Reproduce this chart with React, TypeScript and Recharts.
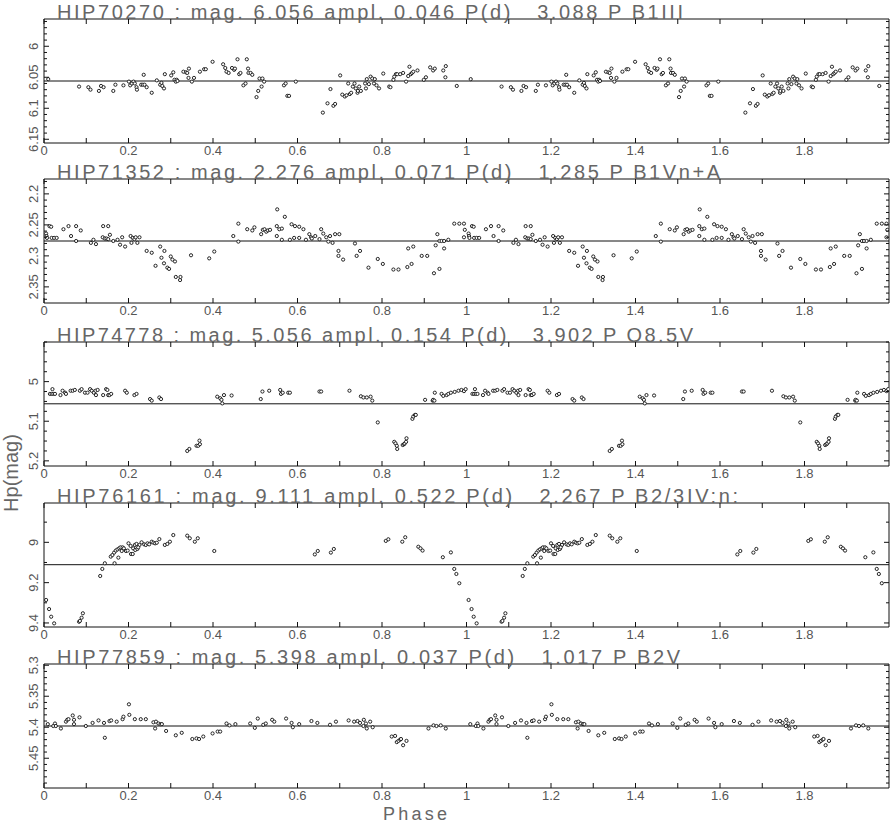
import React from "react";
import { ScatterChart, Scatter, XAxis, YAxis, ReferenceLine } from "recharts";

const FONT = '"Liberation Sans", Arial, Helvetica, sans-serif';
const INK = "#111";
const TEXT = "#555";

// [phase, Hp mag] for one cycle
const hip70270: [number, number][] = [
  [0.010, 6.053], [0.083, 6.065], [0.105, 6.066], [0.110, 6.070], [0.130, 6.072], [0.135, 6.064], [0.141, 6.066],
  [0.164, 6.072], [0.169, 6.062], [0.188, 6.063], [0.201, 6.057], [0.204, 6.063], [0.208, 6.060], [0.212, 6.057],
  [0.215, 6.060], [0.219, 6.066], [0.220, 6.070], [0.230, 6.062], [0.234, 6.062], [0.236, 6.046], [0.238, 6.062],
  [0.243, 6.066], [0.255, 6.075], [0.267, 6.055], [0.275, 6.062], [0.278, 6.059], [0.280, 6.064], [0.284, 6.068],
  [0.286, 6.045], [0.301, 6.047], [0.306, 6.042], [0.309, 6.054], [0.312, 6.057], [0.314, 6.054], [0.316, 6.056],
  [0.330, 6.041], [0.336, 6.042], [0.339, 6.043], [0.343, 6.036], [0.342, 6.051], [0.350, 6.057], [0.355, 6.051],
  [0.369, 6.041], [0.379, 6.037], [0.383, 6.037], [0.399, 6.025], [0.424, 6.029], [0.429, 6.035], [0.432, 6.041],
  [0.437, 6.043], [0.445, 6.035], [0.450, 6.038], [0.452, 6.036], [0.458, 6.021], [0.462, 6.045], [0.465, 6.043],
  [0.472, 6.063], [0.477, 6.060], [0.480, 6.021], [0.483, 6.036], [0.484, 6.043], [0.489, 6.043], [0.493, 6.046],
  [0.503, 6.082], [0.507, 6.072], [0.510, 6.052], [0.515, 6.065], [0.517, 6.052], [0.521, 6.057], [0.568, 6.063],
  [0.572, 6.060], [0.576, 6.080], [0.580, 6.080], [0.596, 6.057], [0.660, 6.107], [0.671, 6.092], [0.678, 6.069],
  [0.685, 6.096], [0.689, 6.093], [0.701, 6.047], [0.706, 6.078], [0.712, 6.081], [0.716, 6.079], [0.720, 6.060],
  [0.724, 6.077], [0.727, 6.075], [0.731, 6.065], [0.735, 6.060], [0.738, 6.068], [0.742, 6.075], [0.743, 6.072],
  [0.746, 6.065], [0.750, 6.072], [0.760, 6.060], [0.762, 6.068], [0.764, 6.053], [0.769, 6.061], [0.773, 6.049],
  [0.777, 6.052], [0.781, 6.060], [0.783, 6.053], [0.787, 6.063], [0.793, 6.068], [0.803, 6.044], [0.817, 6.065],
  [0.820, 6.066], [0.827, 6.054], [0.829, 6.049], [0.833, 6.045], [0.836, 6.045], [0.843, 6.045], [0.850, 6.043],
  [0.857, 6.057], [0.862, 6.048], [0.865, 6.033], [0.868, 6.045], [0.871, 6.043], [0.874, 6.041], [0.884, 6.039],
  [0.899, 6.054], [0.904, 6.050], [0.914, 6.034], [0.921, 6.039], [0.925, 6.036], [0.945, 6.039], [0.950, 6.050],
  [0.951, 6.032], [0.977, 6.064],
];

const hip71352: [number, number][] = [
  [0.005, 2.264], [0.006, 2.268], [0.007, 2.271], [0.013, 2.252], [0.017, 2.253], [0.018, 2.271], [0.024, 2.271],
  [0.030, 2.271], [0.046, 2.257], [0.058, 2.252], [0.064, 2.268], [0.076, 2.252], [0.076, 2.276], [0.087, 2.259],
  [0.111, 2.279], [0.117, 2.274], [0.123, 2.281], [0.139, 2.270], [0.140, 2.252], [0.152, 2.252], [0.144, 2.272],
  [0.148, 2.272], [0.152, 2.273], [0.156, 2.266], [0.164, 2.276], [0.174, 2.274], [0.180, 2.282], [0.185, 2.270],
  [0.192, 2.285], [0.205, 2.268], [0.207, 2.279], [0.210, 2.271], [0.214, 2.273], [0.217, 2.270], [0.221, 2.279],
  [0.226, 2.270], [0.243, 2.292], [0.255, 2.295], [0.264, 2.316], [0.275, 2.285], [0.278, 2.303], [0.285, 2.292],
  [0.284, 2.312], [0.292, 2.319], [0.296, 2.321], [0.300, 2.301], [0.304, 2.306], [0.310, 2.309], [0.312, 2.334],
  [0.322, 2.339], [0.323, 2.334], [0.348, 2.299], [0.391, 2.304], [0.403, 2.293], [0.448, 2.268], [0.460, 2.248],
  [0.460, 2.277], [0.481, 2.257], [0.493, 2.259], [0.498, 2.254], [0.514, 2.265], [0.518, 2.258], [0.522, 2.257],
  [0.526, 2.261], [0.530, 2.259], [0.535, 2.258], [0.551, 2.252], [0.552, 2.225], [0.551, 2.268], [0.557, 2.257],
  [0.563, 2.256], [0.563, 2.274], [0.570, 2.237], [0.582, 2.274], [0.586, 2.249], [0.594, 2.252], [0.592, 2.271],
  [0.604, 2.271], [0.604, 2.253], [0.614, 2.257], [0.620, 2.274], [0.628, 2.265], [0.632, 2.270], [0.634, 2.272],
  [0.642, 2.268], [0.652, 2.273], [0.656, 2.257], [0.661, 2.264], [0.668, 2.270], [0.677, 2.268], [0.689, 2.265],
  [0.699, 2.265], [0.673, 2.277], [0.683, 2.279], [0.697, 2.292], [0.697, 2.300], [0.708, 2.306], [0.736, 2.280],
  [0.740, 2.300], [0.748, 2.292], [0.768, 2.319], [0.790, 2.305], [0.802, 2.313], [0.827, 2.322], [0.839, 2.322],
  [0.860, 2.318], [0.862, 2.288], [0.870, 2.313], [0.874, 2.285], [0.894, 2.300], [0.907, 2.300], [0.923, 2.328],
  [0.927, 2.283], [0.931, 2.265], [0.936, 2.321], [0.936, 2.276], [0.941, 2.276], [0.947, 2.276], [0.947, 2.288],
  [0.957, 2.274], [0.971, 2.248], [0.983, 2.248], [0.994, 2.248], [0.994, 2.270], [0.996, 2.258],
];

const hip74778: [number, number][] = [
  [0.014, 5.031], [0.018, 5.031], [0.020, 5.019], [0.022, 5.031], [0.026, 5.031], [0.039, 5.034], [0.044, 5.023],
  [0.050, 5.028], [0.052, 5.031], [0.063, 5.023], [0.068, 5.023], [0.073, 5.021], [0.085, 5.023], [0.089, 5.019],
  [0.097, 5.028], [0.103, 5.028], [0.109, 5.019], [0.113, 5.023], [0.118, 5.028], [0.122, 5.023], [0.123, 5.034],
  [0.127, 5.021], [0.140, 5.034], [0.147, 5.019], [0.150, 5.021], [0.152, 5.034], [0.155, 5.034], [0.159, 5.031],
  [0.192, 5.023], [0.196, 5.028], [0.214, 5.034], [0.219, 5.031], [0.251, 5.044], [0.255, 5.048], [0.273, 5.040],
  [0.277, 5.044], [0.339, 5.175], [0.344, 5.170], [0.361, 5.162], [0.365, 5.162], [0.369, 5.158], [0.368, 5.149],
  [0.410, 5.038], [0.417, 5.042], [0.420, 5.046], [0.422, 5.055], [0.426, 5.034], [0.444, 5.035], [0.513, 5.044],
  [0.517, 5.025], [0.533, 5.023], [0.559, 5.021], [0.561, 5.031], [0.565, 5.028], [0.578, 5.028], [0.582, 5.028],
  [0.652, 5.025], [0.656, 5.025], [0.723, 5.023], [0.750, 5.037], [0.756, 5.040], [0.764, 5.040], [0.773, 5.038],
  [0.777, 5.048], [0.790, 5.103], [0.829, 5.152], [0.832, 5.156], [0.835, 5.162], [0.836, 5.170], [0.849, 5.160],
  [0.852, 5.158], [0.854, 5.156], [0.857, 5.152], [0.858, 5.143], [0.872, 5.094], [0.874, 5.088], [0.878, 5.084],
  [0.880, 5.084], [0.902, 5.046], [0.920, 5.048], [0.921, 5.046], [0.924, 5.048], [0.925, 5.028], [0.941, 5.031],
  [0.945, 5.036], [0.953, 5.034], [0.957, 5.031], [0.963, 5.028], [0.972, 5.026], [0.981, 5.023], [0.988, 5.021],
  [0.994, 5.024], [0.998, 5.019],
];

const hip76161: [number, number][] = [
  [0.005, 9.286], [0.012, 9.331], [0.017, 9.369], [0.024, 9.402], [0.083, 9.394], [0.085, 9.390], [0.089, 9.374],
  [0.092, 9.352], [0.133, 9.167], [0.138, 9.132], [0.144, 9.104], [0.158, 9.071], [0.162, 9.063], [0.166, 9.051],
  [0.170, 9.041], [0.167, 9.104], [0.174, 9.035], [0.178, 9.030], [0.181, 9.025], [0.186, 9.025], [0.176, 9.076],
  [0.184, 9.043], [0.189, 9.030], [0.194, 9.043], [0.198, 9.041], [0.200, 9.005], [0.205, 9.018], [0.206, 9.058],
  [0.210, 9.058], [0.211, 9.030], [0.215, 9.013], [0.219, 9.008], [0.216, 9.038], [0.221, 9.033], [0.226, 9.013],
  [0.223, 9.025], [0.231, 9.000], [0.237, 9.010], [0.241, 9.013], [0.245, 9.005], [0.249, 9.010], [0.255, 8.997],
  [0.259, 9.002], [0.263, 9.005], [0.267, 9.002], [0.273, 8.984], [0.286, 9.013], [0.292, 9.008], [0.298, 8.997],
  [0.306, 8.964], [0.339, 8.967], [0.345, 8.980], [0.357, 8.997], [0.364, 8.980], [0.403, 9.043], [0.641, 9.060],
  [0.648, 9.043], [0.679, 9.051], [0.686, 9.033], [0.809, 8.993], [0.815, 8.985], [0.848, 8.997], [0.855, 8.975],
  [0.886, 9.022], [0.891, 9.030], [0.896, 9.041], [0.944, 9.074], [0.963, 9.050], [0.971, 9.132], [0.976, 9.157],
  [0.983, 9.203],
];

const hip77859: [number, number][] = [
  [0.009, 5.395], [0.022, 5.398], [0.026, 5.394], [0.028, 5.398], [0.040, 5.402], [0.052, 5.391], [0.055, 5.388],
  [0.058, 5.387], [0.068, 5.381], [0.071, 5.395], [0.071, 5.388], [0.084, 5.384], [0.099, 5.398], [0.115, 5.393],
  [0.129, 5.389], [0.142, 5.393], [0.144, 5.417], [0.155, 5.390], [0.159, 5.389], [0.172, 5.391], [0.186, 5.387],
  [0.188, 5.383], [0.201, 5.363], [0.202, 5.380], [0.215, 5.387], [0.229, 5.387], [0.241, 5.387], [0.259, 5.392],
  [0.263, 5.402], [0.265, 5.391], [0.271, 5.394], [0.276, 5.395], [0.279, 5.395], [0.289, 5.406], [0.312, 5.413],
  [0.326, 5.409], [0.351, 5.419], [0.361, 5.418], [0.367, 5.419], [0.377, 5.415], [0.399, 5.410], [0.411, 5.407],
  [0.417, 5.407], [0.432, 5.394], [0.439, 5.397], [0.453, 5.395], [0.488, 5.394], [0.499, 5.401], [0.506, 5.386],
  [0.519, 5.396], [0.525, 5.394], [0.540, 5.388], [0.545, 5.391], [0.573, 5.386], [0.586, 5.393], [0.589, 5.400],
  [0.604, 5.395], [0.633, 5.390], [0.647, 5.393], [0.677, 5.396], [0.691, 5.391], [0.721, 5.389], [0.734, 5.391],
  [0.742, 5.390], [0.748, 5.393], [0.757, 5.388], [0.762, 5.394], [0.772, 5.391], [0.756, 5.398], [0.764, 5.402],
  [0.778, 5.400], [0.823, 5.415], [0.831, 5.414], [0.835, 5.424], [0.839, 5.422], [0.843, 5.420], [0.845, 5.419],
  [0.850, 5.429], [0.858, 5.422], [0.910, 5.402], [0.922, 5.397], [0.929, 5.398], [0.939, 5.397], [0.951, 5.402],
];

const curves = [hip70270, hip71352, hip74778, hip76161, hip77859];

const stars = ["HIP70270", "HIP71352", "HIP74778", "HIP76161", "HIP77859"];
const meanMags = [6.056, 2.276, 5.056, 9.111, 5.398];
const amplitudes = ["0.046", "0.071", "0.154", "0.522", "0.037"];
const periods = ["3.088", "1.285", "3.902", "2.267", "1.017"];
const spectra = ["B1III", "B1Vn+A", "O8.5V", "B2/3IV:n:", "B2V"];
const titleWidths = [626, 663, 636, 681, 623];

const magDomains: [number, number][] = [
  [5.956, 6.156], [2.176, 2.376], [4.9, 5.213], [8.805, 9.42], [5.298, 5.498],
];
const magTicks = [
  [6, 6.05, 6.1, 6.15], [2.2, 2.25, 2.3, 2.35], [5, 5.1, 5.2], [9, 9.2, 9.4], [5.3, 5.35, 5.4, 5.45],
];
const minorSteps = [0.01, 0.01, 0.025, 0.1, 0.01];

const phaseTicks = [0, 0.2, 0.4, 0.6, 0.8, 1, 1.2, 1.4, 1.6, 1.8];
const phaseMinor = [0, 0.1, 0.2, 0.3, 0.4, 0.5, 0.6, 0.7, 0.8, 0.9, 1, 1.1, 1.2, 1.3, 1.4, 1.5, 1.6, 1.7, 1.8, 1.9];

const frameTops = [19, 179, 342, 503, 664];
const PLOT_TOP = 19;

function tickRange([lo, hi]: [number, number], step: number) {
  const out: number[] = [];
  for (let k = Math.ceil(lo / step - 1e-6); k * step <= hi + 1e-9; k++) out.push(+(k * step).toFixed(4));
  return out;
}

const isIn = (list: number[], v: number) => list.some((m) => Math.abs(m - v) < 1e-6);

const titleOf = (i: number) =>
  `${stars[i]} : mag. ${meanMags[i].toFixed(3)} ampl. ${amplitudes[i]} P(d)   ${periods[i]} P ${spectra[i]}`;

const Dot = (props: any) => (
  <circle cx={props.cx} cy={props.cy} r={1.6} fill="#fff" stroke={INK} strokeWidth={0.9} />
);

const makeLeftTick = (major: number[]) => (props: any) => {
  const { x, y, payload } = props;
  const big = isIn(major, payload.value);
  const lx = x - 6;
  return (
    <g>
      <line x1={x} x2={x + (big ? 5 : 3)} y1={y} y2={y} stroke={INK} />
      {big && (
        <text x={lx} y={y} transform={`rotate(-90 ${lx} ${y})`} textAnchor="middle" fontSize={13} fill={TEXT} fontFamily={FONT}>
          {String(payload.value)}
        </text>
      )}
    </g>
  );
};

const makeRightTick = (major: number[]) => (props: any) => {
  const { x, y, payload } = props;
  const big = isIn(major, payload.value);
  return <line x1={x} x2={x - (big ? 5 : 3)} y1={y} y2={y} stroke={INK} />;
};

const BottomTick = (props: any) => {
  const { x, y, payload } = props;
  return (
    <g>
      <line x1={x} x2={x} y1={y} y2={y - 5} stroke={INK} />
      {isIn(phaseTicks, payload.value) && (
        <text x={x} y={y + 3} dy="0.71em" textAnchor="middle" fontSize={13} fill={TEXT} fontFamily={FONT}>
          {String(payload.value)}
        </text>
      )}
    </g>
  );
};

const TopTick = (props: any) => {
  const { x, y } = props;
  return <line x1={x} x2={x} y1={y} y2={y + 5} stroke={INK} />;
};

function Panel({ idx }: { idx: number }) {
  const pts = curves[idx];
  const data = [
    ...pts.map(([p, m]) => ({ phase: p, mag: m })),
    ...pts.map(([p, m]) => ({ phase: p + 1, mag: m })),
  ];
  const dom = magDomains[idx];
  const minor = tickRange(dom, minorSteps[idx]);
  const major = magTicks[idx];
  const line = { stroke: INK, strokeWidth: 1 };
  const yCommon = { type: "number" as const, dataKey: "mag", domain: dom, allowDataOverflow: true, reversed: true };
  const xCommon = { type: "number" as const, dataKey: "phase", domain: [0, 2], allowDataOverflow: true };

  return (
    <div style={{ position: "absolute", left: 0, top: frameTops[idx] - PLOT_TOP }}>
      <ScatterChart width={891} height={160} margin={{ top: PLOT_TOP, right: 2, bottom: 0, left: 0 }}>
        <XAxis
          xAxisId="x"
          {...xCommon}
          ticks={phaseMinor}
          interval={0}
          height={17}
          tickLine={false}
          tickSize={0}
          tickMargin={0}
          tick={BottomTick}
          axisLine={line}
        />
        <XAxis
          xAxisId="xt"
          {...xCommon}
          orientation="top"
          mirror
          height={1}
          ticks={phaseMinor}
          interval={0}
          tickLine={false}
          tickSize={0}
          tickMargin={0}
          tick={TopTick}
          axisLine={line}
        />
        <YAxis
          yAxisId="y"
          {...yCommon}
          width={44}
          ticks={minor}
          interval={0}
          tickLine={false}
          tickSize={0}
          tickMargin={0}
          tick={makeLeftTick(major)}
          axisLine={line}
        />
        <YAxis
          yAxisId="yr"
          {...yCommon}
          orientation="right"
          mirror
          width={1}
          ticks={minor}
          interval={0}
          tickLine={false}
          tickSize={0}
          tickMargin={0}
          tick={makeRightTick(major)}
          axisLine={line}
        />
        <ReferenceLine xAxisId="x" yAxisId="y" y={meanMags[idx]} stroke={INK} strokeWidth={1} />
        <Scatter xAxisId="x" yAxisId="y" data={data} dataKey="mag" shape={Dot} isAnimationActive={false} />
        <Scatter xAxisId="xt" yAxisId="yr" data={[]} dataKey="mag" isAnimationActive={false} />
      </ScatterChart>
    </div>
  );
}

export default function App() {
  return (
    <div style={{ position: "absolute", left: 0, top: 0, width: 891, height: 823, background: "#fff", overflow: "hidden" }}>
      {stars.map((s, i) => (
        <Panel key={s} idx={i} />
      ))}
      <svg width={891} height={823} style={{ position: "absolute", left: 0, top: 0, pointerEvents: "none" }}>
        {stars.map((s, i) => (
          <text
            key={s}
            x={57}
            y={frameTops[i]}
            fontSize={20}
            fill="#666"
            fontFamily={FONT}
            style={{ whiteSpace: "pre" }}
            textLength={titleWidths[i]}
            lengthAdjust="spacing"
          >
            {titleOf(i)}
          </text>
        ))}
        <text x={18} y={473} transform="rotate(-90 18 473)" textAnchor="middle" fontSize={20} fill="#666" fontFamily={FONT}>
          Hp(mag)
        </text>
        <text x={383} y={819.5} fontSize={18} fill="#666" fontFamily={FONT} textLength={64} lengthAdjust="spacing">
          Phase
        </text>
      </svg>
    </div>
  );
}
